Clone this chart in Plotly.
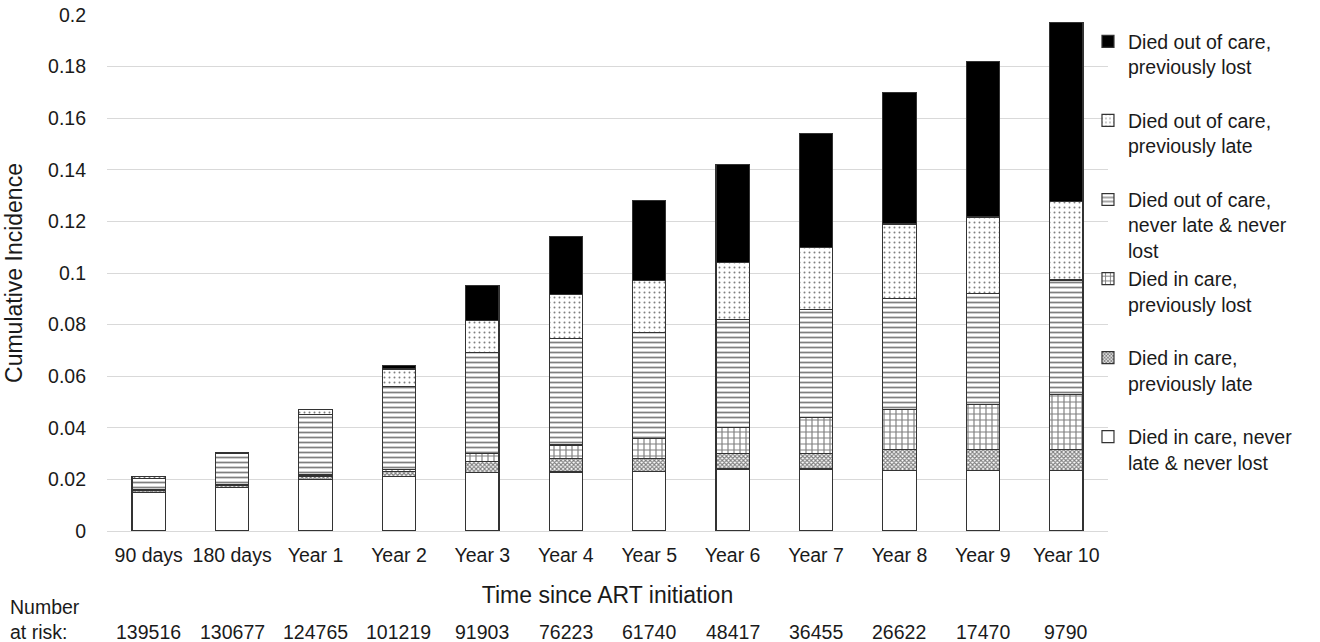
import plotly.graph_objects as go

periods = ['90 days', '180 days', 'Year 1', 'Year 2', 'Year 3', 'Year 4',
           'Year 5', 'Year 6', 'Year 7', 'Year 8', 'Year 9', 'Year 10']

# segment heights, bottom of the stack first
in_care_never = [0.015, 0.017, 0.020, 0.021, 0.0228, 0.0229,
                 0.023, 0.024, 0.024, 0.0235, 0.0235, 0.0235]
in_care_late = [0.0008, 0.0008, 0.0012, 0.002, 0.0042, 0.0052,
                0.005, 0.006, 0.006, 0.008, 0.008, 0.008]
in_care_lost = [0.0001, 0.0002, 0.0005, 0.0007, 0.003, 0.0052,
                0.008, 0.010, 0.014, 0.0155, 0.0175, 0.0215]
out_never = [0.0044, 0.012, 0.0236, 0.0323, 0.0391, 0.0412,
             0.041, 0.042, 0.042, 0.043, 0.043, 0.0443]
out_late = [0.0007, 0.0002, 0.0017, 0.0068, 0.0124, 0.0171,
            0.020, 0.022, 0.024, 0.029, 0.0297, 0.0305]
out_lost = [0.0, 0.0, 0.0, 0.0012, 0.0138, 0.0226,
            0.031, 0.038, 0.044, 0.051, 0.0603, 0.0692]

at_risk = [139516, 130677, 124765, 101219, 91903, 76223,
           61740, 48417, 36455, 26622, 17470, 9790]

names = ['Died in care, never<br>late & never lost',
         'Died in care,<br>previously late',
         'Died in care,<br>previously lost',
         'Died out of care,<br>never late & never<br>lost',
         'Died out of care,<br>previously late',
         'Died out of care,<br>previously lost']

FONT = 'Liberation Sans, Arial, Helvetica, sans-serif'
TXT = '#1a1a1a'

styles = [
    dict(color='white', pattern=dict(shape='')),
    dict(color='white', pattern=dict(shape='x', fgcolor='black', size=3, solidity=0.6)),
    dict(color='white', pattern=dict(shape='+', fgcolor='black', size=6, solidity=0.35)),
    dict(color='white', pattern=dict(shape='-', fgcolor='black', size=5, solidity=0.35)),
    dict(color='white', pattern=dict(shape='.', fgcolor='black', size=5, solidity=0.12)),
    dict(color='black', pattern=dict(shape='')),
]

series = [in_care_never, in_care_late, in_care_lost, out_never, out_late, out_lost]

fig = go.Figure()
for vals, name, st in zip(series, names, styles):
    # pad every legend entry to three lines so the items are evenly spaced
    label = name if name.count('<br>') == 2 else name + '<br>&nbsp;'
    fig.add_trace(go.Bar(
        x=periods, y=vals, name=label,
        marker=dict(color=st['color'], pattern=st['pattern'],
                    line=dict(color='#333333', width=1.2)),
    ))

fig.add_annotation(text='Number<br>at risk:', xref='paper', yref='paper',
                   x=-0.099, y=-0.171, xanchor='left', yanchor='middle',
                   align='left', showarrow=False, font=dict(size=19.5, color=TXT))
for p, n in zip(periods, at_risk):
    fig.add_annotation(text=str(n), x=p, xref='x', yref='paper', y=-0.1955,
                       yanchor='middle', showarrow=False,
                       font=dict(size=19.5, color=TXT))

fig.update_layout(
    barmode='stack',
    bargap=0.6,
    width=1320, height=642,
    margin=dict(l=107, r=212, t=15, b=111, autoexpand=False),
    paper_bgcolor='white', plot_bgcolor='white',
    font=dict(family=FONT, size=19.5, color=TXT),
    showlegend=True,
    legend=dict(traceorder='reversed', valign='top', x=0.98, xanchor='left',
                y=0.986, yanchor='top', font=dict(size=19.5, color=TXT),
                bgcolor='rgba(0,0,0,0)', itemwidth=30),
    xaxis=dict(title=dict(text='Time since ART initiation', standoff=22),
               showgrid=False, ticks='', ticklabelstandoff=10, automargin=False,
               showline=False, zeroline=False),
    yaxis=dict(title=dict(text='Cumulative Incidence', standoff=18),
               range=[0, 0.2], dtick=0.02, showgrid=True, gridcolor='#d9d9d9',
               gridwidth=1.2, zeroline=True, zerolinecolor='#d9d9d9',
               zerolinewidth=1.2, ticklabelstandoff=20, showline=False,
               automargin=False),
)

# drop the default 8px body margin so the figure fills the window
fig.write_html("out.html", config={'displayModeBar': False},
               post_script="document.body.style.margin='0';")
